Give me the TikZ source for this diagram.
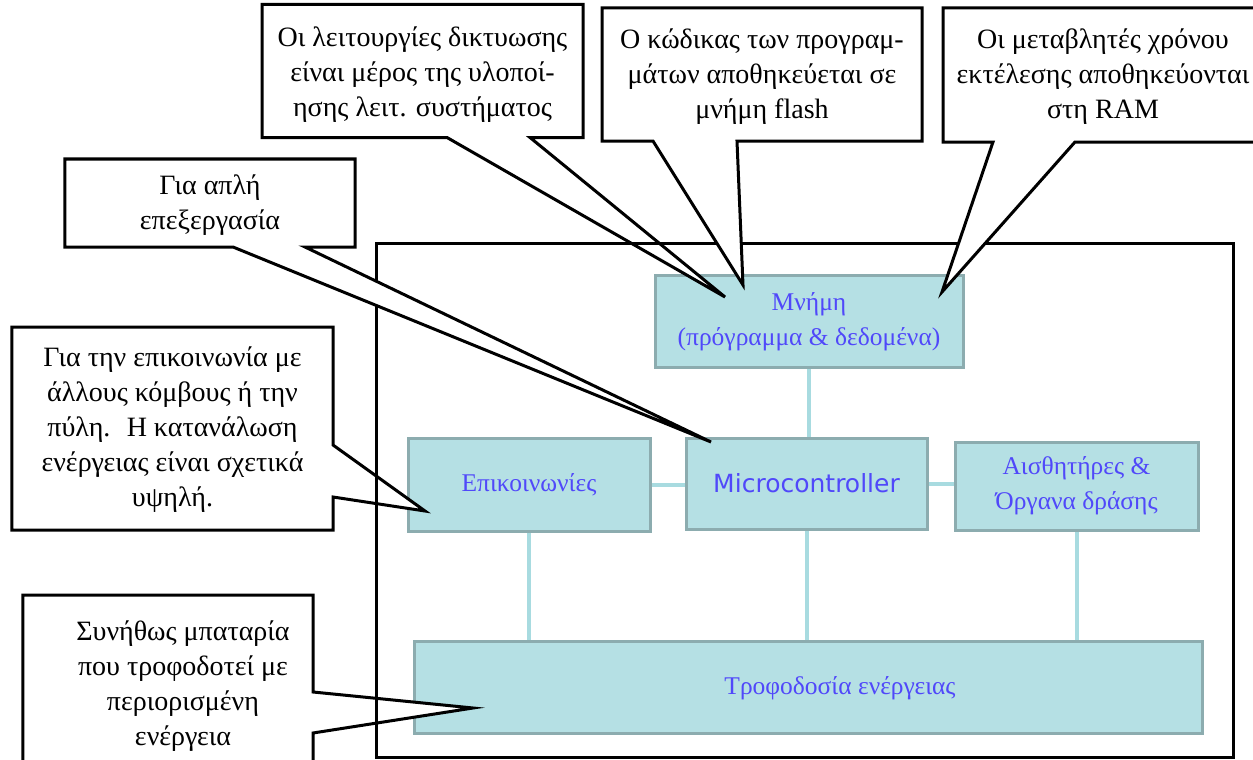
\documentclass[tikz,border=0pt]{standalone}
\usepackage{fontspec}
\setmainfont{Liberation Serif}
\newfontfamily\mcufont{DejaVu Sans}
\usetikzlibrary{calc}
\pgfdeclarelayer{background}
\pgfsetlayers{background,main}
\definecolor{boxfill}{RGB}{181,224,228}
\definecolor{boxedge}{RGB}{140,172,175}
\definecolor{wirecol}{RGB}{168,219,224}
\definecolor{boxtext}{RGB}{80,72,250}
\tikzset{
  unit/.style={draw=boxedge, line width=3bp, fill=boxfill, text=boxtext, inner sep=0,
    align=center, font=\fontsize{25.5bp}{35bp}\selectfont},
  wire/.style={draw=wirecol, line width=4bp},
  callbox/.style={inner sep=0, outer sep=0},
  calltext/.style={inner sep=0, align=center, font=\fontsize{28bp}{35bp}\selectfont},
  callout/.style={draw=black, fill=white, line width=3bp, line join=miter},
  framebox/.style={draw=black, line width=3bp, inner sep=0},
}
\begin{document}
\begin{tikzpicture}[x=1bp,y=-1bp]
\useasboundingbox (0,0) rectangle (1253,760);
\clip (0,0) rectangle (1253,760);

% functional units of the node
\node[unit, minimum width=308bp, minimum height=92bp] (mem) at (809,321.5)
  {Μνήμη\\(πρόγραμμα \& δεδομένα)};
\node[unit, minimum width=241bp, minimum height=91bp,
  font=\mcufont\fontsize{25bp}{30bp}\selectfont] (mcu) at (806.5,483.5) {Microcontroller};
\node[unit, minimum width=242bp, minimum height=93bp] (comm) at (529,484.5) {Επικοινωνίες};
\node[unit, minimum width=243bp, minimum height=88bp] (sens) at (1076.5,486)
  {Αισθητήρες \&\\Όργανα δράσης};
\node[unit, minimum width=787bp, minimum height=92bp] (pwr) at (808.5,687) {};
\node[text=boxtext, inner sep=0, font=\fontsize{25.5bp}{35bp}\selectfont] (pwrt) at (840,688)
  {Τροφοδοσία ενέργειας};

% links between the units
\begin{pgfonlayer}{background}
  \fill[white] (0,0) rectangle (1253,760);
  \draw[wire] (mem.south) -- (mem.south |- mcu.north);
  \draw[wire] (comm.east) -- (comm.east -| mcu.west);
  \draw[wire] (mcu.east) -- (mcu.east -| sens.west);
  \draw[wire] (comm.south) -- (comm.south |- pwr.north);
  \draw[wire] (mcu.south) -- (mcu.south |- pwr.north);
  \draw[wire] (sens.south) -- (sens.south |- pwr.north);
\end{pgfonlayer}

% pointer tips
\coordinate (t1) at (725,297);
\coordinate (t2) at (743,285);
\coordinate (t3) at (942,292);
\coordinate (t4) at (711,442);
\coordinate (t5) at (425,511);
\coordinate (t6) at (473,708);

% callout: networking
\node[callbox, minimum width=321bp, minimum height=133bp] (c1) at (422.5,71) {};
\draw[callout] (c1.north west) -| (c1.south east) -- (530,0 |- c1.south) -- (t1)
  -- (447,0 |- c1.south) -- (c1.south west) -- cycle;
\node[calltext] (c1t) at (422.5,75) {Οι λειτουργίες δικτυωσης\\είναι μέρος της υλοποί-\\ησης λειτ. συστήματος};

% callout: communication
\node[callbox, minimum width=321bp, minimum height=203bp] (c5) at (172.5,428.5) {};
\draw[callout] (c5.north west) -- (c5.north east) -- (c5.east |- 0,445) -- (t5)
  -- (c5.east |- 0,497) -- (c5.south east) -- (c5.south west) -- cycle;
\node[calltext] (c5t) at (172.5,430) {Για την επικοινωνία με\\άλλους κόμβους ή την\\πύλη.~ Η κατανάλωση\\ενέργειας είναι σχετικά\\υψηλή.};

% callout: power source
\node[callbox, minimum width=290bp, minimum height=185bp] (c6) at (168,687.5) {};
\draw[callout] (c6.north west) -- (c6.north east) -- (c6.east |- 0,692) -- (t6)
  -- (c6.east |- 0,733) -- (c6.south east) -- (c6.south west) -- cycle;
\node[calltext] (c6t) at (183,686) {Συνήθως μπαταρία\\που τροφοδοτεί με\\περιορισμένη\\ενέργεια};

% node boundary
\node[framebox, minimum width=856bp, minimum height=513bp] (frame) at (805,500.5) {};

% callout: program memory
\node[callbox, minimum width=320bp, minimum height=133bp] (c2) at (762,74.5) {};
\draw[callout] (c2.north west) -| (c2.south east) -- (737,0 |- c2.south) -- (t2)
  -- (653,0 |- c2.south) -- (c2.south west) -- cycle;
\node[calltext] (c2t) at (762,77) {Ο κώδικας των προγραμ-\\μάτων αποθηκεύεται σε\\μνήμη flash};

% callout: runtime data (open on the right, it runs past the edge)
\node[callbox, minimum width=420bp, minimum height=134bp] (c3) at (1153,75) {};
\fill[white] (c3.north west) -| (c3.south east) -- (1075,0 |- c3.south) -- (t3)
  -- (993,0 |- c3.south) -- (c3.south west) -- cycle;
\draw[callout, fill=none] (c3.north east) -- (c3.north west) -- (c3.south west)
  -- (993,0 |- c3.south) -- (t3) -- (1075,0 |- c3.south) -- (c3.south east);
\node[calltext] (c3t) at (1103,77) {Οι μεταβλητές χρόνου\\εκτέλεσης αποθηκεύονται\\στη RAM};

% callout: processing
\node[callbox, minimum width=290bp, minimum height=88bp] (c4) at (210,203) {};
\draw[callout] (c4.north west) -| (c4.south east) -- (305,0 |- c4.south) -- (t4)
  -- (233,0 |- c4.south) -- (c4.south west) -- cycle;
\node[calltext] (c4t) at (210,205) {Για απλή\\επεξεργασία};
\end{tikzpicture}
\end{document}
